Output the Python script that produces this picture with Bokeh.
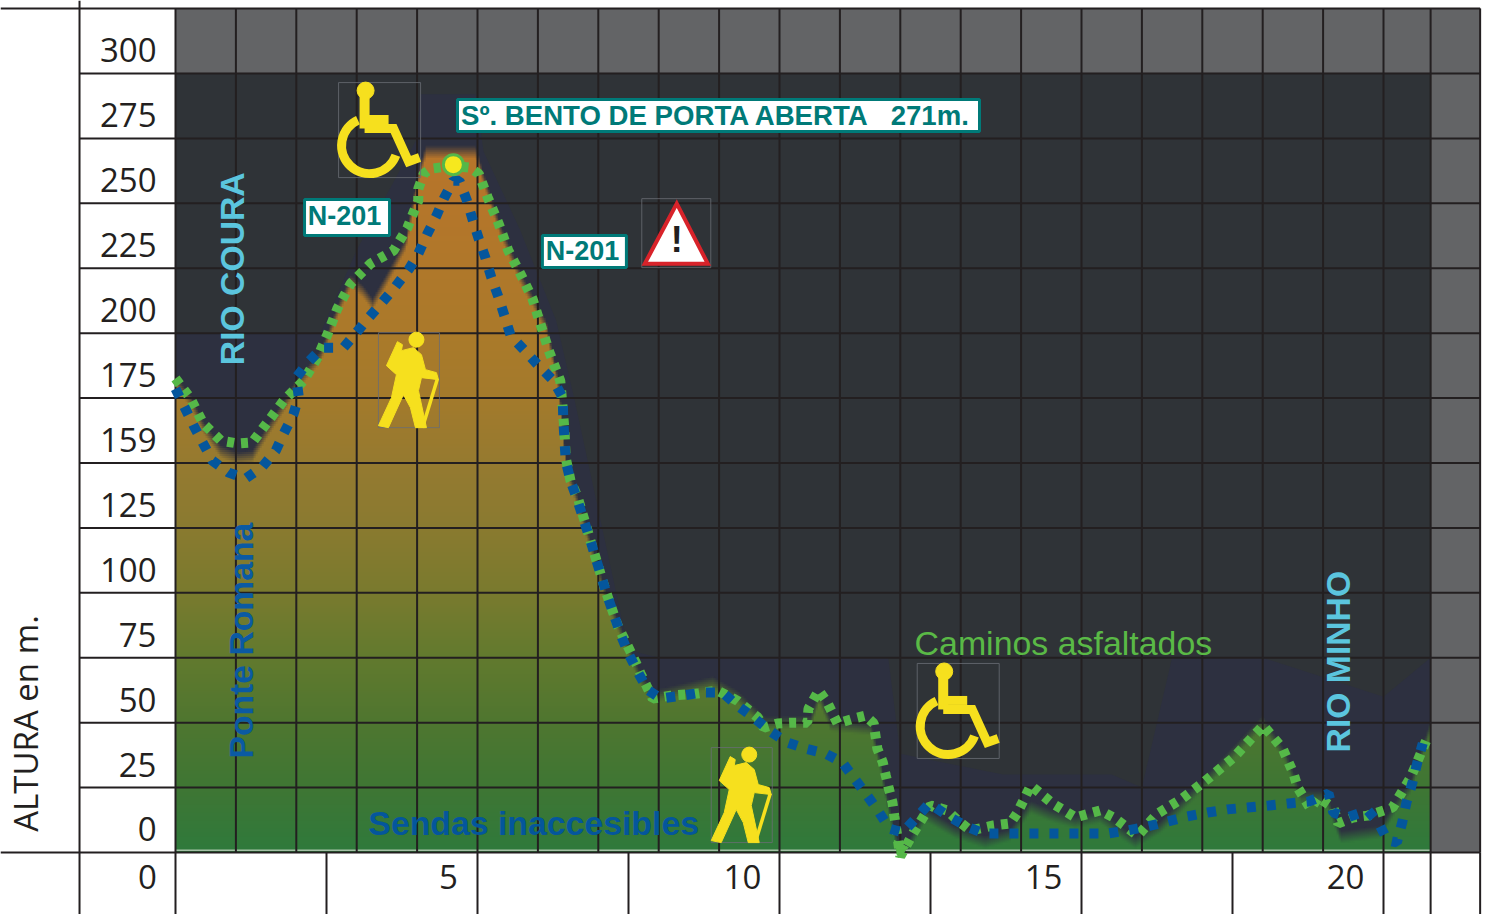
import numpy as np
from bokeh.plotting import figure
from bokeh.models import Range1d, LinearAxis, FixedTicker
from bokeh.core.properties import value
from bokeh.embed import file_html
from bokeh.resources import INLINE

# ---------- data ----------
y_values = [0, 25, 50, 75, 100, 125, 150, 175, 200, 225, 250, 275, 300]
y_labels = ["0", "25", "50", "75", "100", "125", "159", "175", "200", "225", "250", "275", "300"]
x_values = [0, 5, 10, 15, 20]
x_labels = ["0", "5", "10", "15", "20"]

green_km = [0.00,0.25,0.46,0.75,1.03,1.27,1.52,1.79,2.12,2.35,2.52,2.68,2.90,3.23,3.61,3.84,4.02,4.02,4.11,4.22,4.60,4.88,5.02,5.17,5.35,5.51,5.71,5.91,6.04,6.18,6.37,6.41,6.44,6.46,6.54,6.66,6.87,7.12,7.32,7.62,7.70,7.90,8.20,8.64,8.97,9.30,9.64,9.74,9.97,10.22,10.46,10.48,10.65,10.79,10.96,11.23,11.42,11.56,11.62,11.71,11.76,11.81,11.87,11.90,12.00,12.22,12.50,12.78,12.95,13.16,13.54,13.82,13.94,14.16,14.52,14.90,15.31,15.53,15.93,16.26,16.67,17.02,17.52,18.01,18.33,18.51,18.58,18.79,18.92,19.17,19.25,19.50,19.74,20.15,20.45,20.65,20.73]
green_alt = [182.5,174.8,165.2,158.6,157.5,157.9,165.6,174.0,181.7,190.6,199.8,209.5,219.1,226.8,231.8,240.6,251.0,255.6,261.4,263.3,264.5,263.7,261.4,252.2,242.2,231.8,222.9,213.3,203.7,193.3,181.7,171.3,162.5,152.1,143.2,136.7,120.1,100.9,87.4,73.2,68.9,59.3,60.4,61.2,62.4,58.5,52.0,48.1,49.7,50.0,50.0,55.4,62.4,57.8,49.7,51.6,52.7,49.7,40.0,34.7,29.6,24.6,19.3,14.2,-1.5,7.7,18.1,16.2,12.3,8.5,10.4,11.2,15.4,25.8,18.9,13.5,16.2,13.5,6.5,15.0,20.8,27.0,36.6,48.9,40.0,30.4,25.0,16.9,21.2,17.3,11.2,13.5,14.2,17.3,28.9,40.0,44.3]

blue_km = [0.00,0.30,0.61,0.88,1.16,1.44,1.66,1.79,1.95,2.04,2.00,2.19,2.43,2.78,2.98,3.20,3.43,3.64,3.86,4.02,4.17,4.32,4.45,4.60,4.70,4.82,4.92,5.02,5.13,5.23,5.35,5.45,5.55,5.78,6.01,6.26,6.41,6.42,6.44,6.46,6.54,6.64,6.87,7.12,7.37,7.50,7.65,7.81,8.03,8.38,8.71,9.06,9.30,9.57,9.83,10.12,10.43,10.76,11.04,11.24,11.44,11.64,11.82,12.04,12.27,12.48,12.80,13.10,13.39,13.73,14.07,14.42,14.75,15.10,15.43,15.76,16.09,16.42,16.75,17.09,17.42,17.75,18.10,18.43,18.76,19.09,19.17,19.40,19.74,19.92,20.07,20.22,20.31,20.38,20.48,20.56,20.65]
blue_alt = [178.6,164.4,150.9,146.3,144.0,148.6,154.8,161.3,168.6,175.6,182.9,188.7,194.4,194.4,199.8,206.0,212.1,217.9,224.5,230.6,238.3,245.2,252.2,258.7,258.7,251.4,243.7,236.4,229.1,221.4,213.7,206.4,199.0,193.3,187.5,181.7,175.2,167.1,159.0,150.9,143.2,136.7,120.1,100.9,83.9,76.6,69.7,62.8,59.3,60.4,61.6,61.6,56.6,52.0,47.0,42.4,40.0,38.1,34.7,28.5,22.3,15.8,9.2,7.7,13.5,18.9,13.9,10.0,7.3,7.3,7.3,7.3,7.3,7.3,7.3,8.5,10.0,11.9,13.9,15.4,16.6,17.3,18.1,18.9,19.6,22.7,15.4,13.5,16.2,11.2,4.6,3.9,11.6,19.3,27.0,34.7,42.0]

terrain_km = [0.00,0.25,0.46,0.75,1.03,1.27,1.52,1.79,1.99,2.40,2.68,2.90,3.10,3.26,3.48,3.81,4.02,4.14,4.97,5.08,5.38,5.71,6.13,6.34,6.46,6.66,7.12,7.70,7.90,8.89,9.30,9.76,10.51,10.65,10.84,11.51,11.67,11.92,12.05,12.42,12.91,13.41,13.82,14.16,14.49,14.90,15.31,15.89,16.31,16.97,18.00,18.38,18.63,19.04,19.29,19.95,20.20,20.45,20.78]
terrain_alt = [183.7,176.0,166.0,156.7,154.0,154.8,164.4,174.0,181.7,193.3,210.6,222.2,218.3,213.3,222.2,236.4,262.6,271.9,271.9,262.6,241.4,223.4,204.9,181.7,150.9,136.7,100.9,68.9,62.4,67.8,62.4,52.4,52.8,62.4,51.6,50.0,35.4,8.5,0.8,16.9,10.4,6.5,9.2,20.0,16.9,14.2,16.2,6.5,12.3,27.7,52.8,39.3,23.9,23.9,8.5,10.4,20.0,27.7,50.8]

halo_km = [0.00,2.40,3.00,4.00,4.05,4.97,5.10,5.70,6.30,6.60,7.50,8.00,11.80,12.00,13.70,15.50,16.00,16.50,18.00,20.00,20.78]
halo_alt = [200,200,232,275,292,292,270,240,205,175,78,75,75,38,30,30,25,75,75,60,75]

# ---------- scale: pixels of the page per unit ----------
PX_KM = 60.4
PX_M = 2.5967
KM_MIN = -175 / PX_KM
KM_MAX = 1310 / PX_KM
ALT_MIN = -62 / PX_M
ALT_MAX = 852 / PX_M
KM_END = 20.78      # right edge of the profile panel
KM_OUT = 21.6       # right edge of the table
KM_LEFT = -1.589    # inner line of the left column
ALT_TOP = 325.0

p = figure(width=1485, height=914,
           x_range=Range1d(KM_MIN, KM_MAX), y_range=Range1d(ALT_MIN, ALT_MAX),
           toolbar_location=None, output_backend="svg", min_border=0,
           x_axis_location=None, y_axis_location=None,
           outline_line_color=None, background_fill_color="white")
p.xgrid.visible = False
p.ygrid.visible = False

GRID = "#231f20"
# panels
p.quad(left=0, right=KM_OUT, bottom=300, top=ALT_TOP, color="#636466", level="image")
p.quad(left=KM_END, right=KM_OUT, bottom=0, top=300, color="#636466", level="image")
p.quad(left=0, right=KM_END, bottom=0, top=300, color="#2f3337", level="image")
p.varea(x=halo_km, y1=[0] * len(halo_km), y2=halo_alt, color="#2d3040", level="image")

# terrain with vertical colour ramp and a soft upper edge
stop_alt = [0, 25, 50, 75, 100, 125, 150, 175, 200, 250, 275]
stop_rgb = np.array([[47,122,60],[63,118,52],[79,118,48],[98,122,46],[122,122,46],[138,122,48],
                     [150,122,48],[164,122,44],[171,122,42],[181,118,42],[184,117,42]], dtype=float)
W, H = 628, 354
top_alt = 272.6
SOFT = 5.0
cx = (np.arange(W) + 0.5) / W * KM_END
cy = (np.arange(H) + 0.5) / H * top_alt
alpha = np.clip((np.interp(cx, terrain_km, terrain_alt)[None, :] - cy[:, None]) / SOFT, 0, 1)
rgba = np.zeros((H, W, 4), dtype=np.uint8)
for ch in range(3):
    rgba[:, :, ch] = np.interp(cy, stop_alt, stop_rgb[:, ch])[:, None].astype(np.uint8)
rgba[:, :, 3] = (alpha * 255).astype(np.uint8)
img = rgba.view(np.uint32).reshape(H, W)
p.image_rgba(image=[img], x=0, y=0, dw=KM_END, dh=top_alt, level="image")

# thin pale edge at the foot of the profile
p.segment(x0=[0], y0=[0.9], x1=[KM_END], y1=[0.9], line_color="#dfe6dc", line_width=1, level="image")

# table rules
def vrules(ticks, lo, hi):
    p.segment(x0=ticks, y0=[lo] * len(ticks), x1=ticks, y1=[hi] * len(ticks),
              line_color=GRID, line_width=2, level="underlay")
def hrules(ticks, lo, hi):
    p.segment(x0=[lo] * len(ticks), y0=ticks, x1=[hi] * len(ticks), y1=ticks,
              line_color=GRID, line_width=2, level="underlay")

vrules(list(range(0, 21)) + [KM_END, KM_OUT], 0, ALT_TOP)
vrules([0, 2.5, 5, 7.5, 10, 12.5, 15, 17.5, 20, KM_END, KM_OUT], ALT_MIN, 0)
vrules([KM_LEFT], ALT_MIN, ALT_MAX)
hrules(y_values[1:], KM_LEFT, KM_OUT)
hrules([0, ALT_TOP], KM_MIN, KM_OUT)

# real axes placed on the zero lines; the labels sit inside the table cells
Y_SHIFT = 8.86
y_ticks = [round(v + Y_SHIFT, 2) for v in y_values]
yax = LinearAxis(fixed_location=0, ticker=FixedTicker(ticks=y_ticks),
                 major_label_overrides=dict(zip(y_ticks, y_labels)))
x_ticks = [round(v, 3) for v in (-0.464, 4.52, 9.387, 14.371, 19.371)]
xax = LinearAxis(fixed_location=0, ticker=FixedTicker(ticks=x_ticks),
                 major_label_overrides=dict(zip(x_ticks, x_labels)))
for ax, standoff in ((yax, 19), (xax, 12)):
    ax.axis_line_color = None
    ax.major_tick_line_color = None
    ax.minor_tick_line_color = None
    ax.major_tick_in = 0
    ax.major_tick_out = 0
    ax.major_label_standoff = standoff
    ax.major_label_text_font = "Open Sans"
    ax.major_label_text_font_size = "33px"
    ax.major_label_text_color = "#231f20"
p.add_layout(yax, "left")
p.add_layout(xax, "below")

# small drawn signs, built from offsets in page pixels from a corner given in data units
def X(km, dx):
    return km + np.asarray(dx, dtype=float) / PX_KM
def Y(alt, dy):
    return alt - np.asarray(dy, dtype=float) / PX_M

# routes
p.line(green_km, green_alt, line_color="#55b848", line_width=10, line_dash="7 7")
p.line(blue_km, blue_alt, line_color="#04569c", line_width=10, line_dash="9 11")
# arrow-like end of the green route where it dips below the base line
p.patch(X(12.0, [-6, 8, -2]), Y(0, [-12, -5, 5]), color="#55b848")

# top point
p.scatter([4.60], [264.9], marker="circle", size=20, fill_color="#f6e81e",
          line_color="#55b848", line_width=3)

def txt(km, alt, s, color, size, bold=True, angle=0.0, font="Liberation Sans"):
    p.text([km], [alt], text=[s], text_color=color, text_font=value(font),
           text_font_size=f"{size}px", text_font_style="bold" if bold else "normal",
           text_align="center", text_baseline="middle", angle=angle)

# free labels
txt(0.94, 224.8, "RIO COURA", "#5bc5de", 33.7, angle=np.pi / 2)
txt(19.24, 73.5, "RIO MINHO", "#5bc5de", 33.7, angle=np.pi / 2)
txt(1.08, 81.6, "Ponte Romana", "#0b5aa3", 33.7, angle=np.pi / 2)
txt(5.93, 11.2, "Sendas inaccesibles", "#04569c", 33.8)
txt(14.70, 80.5, "Caminos asfaltados", "#5ab946", 33.9, bold=False)
txt(-2.48, 49.7, "ALTURA en m.", "#231f20", 33, bold=False, angle=np.pi / 2, font="Open Sans")

# boxed labels
TEAL = "#007a78"
def box(km, alt, s, w, h, size, tx=0.0, ty=0.0):
    p.rect([km], [alt], width=w, height=h, width_units="screen", height_units="screen",
           fill_color="white", line_color=TEAL, line_width=3)
    txt(float(X(km, tx)), float(Y(alt, ty)), s, TEAL, size)

box(8.99, 283.8, "S\u00ba. BENTO DE PORTA ABERTA\u00a0\u00a0 271m.", 522, 32, 27.6, tx=-2.5)
box(2.84, 244.5, "N-201", 85, 36, 27, tx=-2.5, ty=-2)
box(6.77, 231.4, "N-201", 84, 32, 27, tx=-2, ty=-1)

YEL = "#f6e01e"
FRAME = "#6a6d75"

def frame(km, alt, w, h):
    p.line(X(km, [0, w, w, 0, 0]), Y(alt, [0, 0, h, h, 0]), line_color=FRAME, line_width=0.8)

def wheelchair(km, alt):
    frame(km, alt, 82, 95)
    p.scatter(X(km, [27]), Y(alt, [8]), marker="circle", size=17, color=YEL)
    p.line(X(km, [26, 26]), Y(alt, [10, 46]), line_color=YEL, line_width=10)
    p.line(X(km, [26, 50]), Y(alt, [37, 37]), line_color=YEL, line_width=9)
    p.line(X(km, [26, 55, 70, 81]), Y(alt, [46, 46, 79, 75]), line_color=YEL, line_width=9,
           line_join="miter")
    p.arc(X(km, [31]), Y(alt, [63]), radius=28, radius_units="screen",
          start_angle=2.0, end_angle=-0.35, direction="anticlock",
          line_color=YEL, line_width=9)

def hiker(km, alt):
    frame(km, alt, 61, 95)
    p.scatter(X(km, [38]), Y(alt, [7]), marker="circle", size=15, color=YEL)
    bx = [19, 24, 23, 35, 43, 47, 58, 60, 43, 40, 48, 37, 32, 25, 10, 0, 13, 18, 8]
    by = [9, 12, 18, 15, 22, 37, 40, 47, 45, 58, 95, 95, 75, 62, 95, 93, 65, 42, 33]
    p.patch(X(km, bx), Y(alt, by), color=YEL)
    p.line(X(km, [59, 44]), Y(alt, [46, 95]), line_color=YEL, line_width=3.5)

def warning(km, alt):
    frame(km, alt, 69, 69)
    p.patch(X(km, [35, 66, 3]), Y(alt, [5, 65, 65]), fill_color="white",
            line_color="#d8232a", line_width=4, line_join="miter")
    txt(km + 35 / PX_KM, alt - 41 / PX_M, "!", "#231f20", 36)

wheelchair(2.70, 296.5)
wheelchair(12.28, 72.8)
hiker(3.36, 200.2)
hiker(8.87, 40.4)
warning(7.72, 251.8)

open("out.html", "w").write(file_html(p, INLINE))
